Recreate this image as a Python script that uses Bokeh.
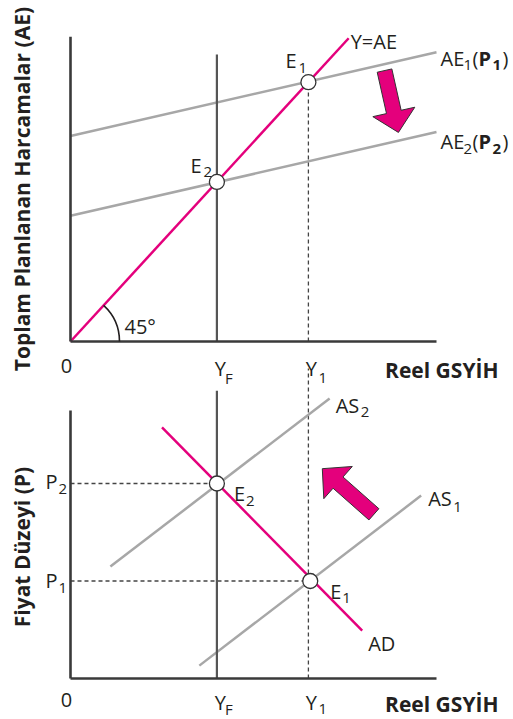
import math
from bokeh.plotting import figure
from bokeh.models import Range1d
from bokeh.core.properties import value
from bokeh.embed import file_html
from bokeh.resources import INLINE

# ---------------- data: top panel (Aggregate expenditure, AE) ----------------
Y_F = 4.0            # full-employment output
Y_1 = 6.5            # initial equilibrium output
X_AXIS_END = 10.0
AE_AXIS_TOP = 7.64
line45_x = [0.0, 7.6]
line45_y = [0.0, 7.6]
ae1_x = [0.0, 10.0]
ae1_y = [5.15, 7.25]
ae2_x = [0.0, 10.0]
ae2_y = [3.15, 5.25]
YF_LINE_TOP_AE = 7.19
e_top_x = [Y_1, Y_F]
e_top_y = [6.5, 4.0]
arrow_top_tail = (8.58, 6.79)
arrow_top_tip = (8.96, 5.24)

# ---------------- data: bottom panel (AD-AS, price level P) ----------------
P_1 = 2.5
P_2 = 5.0
P_AXIS_TOP = 6.87
as1_x = [3.52, 9.58]
as1_y = [0.33, 4.69]
as2_x = [1.09, 7.08]
as2_y = [2.87, 7.18]
ad_x = [2.5, 7.97]
ad_y = [6.44, 1.23]
e_bot_x = [6.55, Y_F]
e_bot_y = [P_1, P_2]
YF_LINE_TOP_P = 7.38
Y1_LINE_TOP_P = 7.95
arrow_bot_tail = (8.29, 4.21)
arrow_bot_tip = (6.88, 5.38)

# ---------------- layout / style ----------------
W, H = 513, 719
PX_X, PX_AE, PX_P = 36.6, 39.9, 39.0
X0, AE0, P0 = 70, 341, 678
MAGENTA = "#E4007C"
GRAY = "#A7A7A7"
AXIS = "#3A3A3A"
INK = "#231F20"
FONT = "Open Sans"
REG, SUB, BOLD = 20, 15, 21

p = figure(width=W, height=H, output_backend="svg", toolbar_location=None,
           x_range=Range1d(-X0 / PX_X, (W - X0) / PX_X),
           y_range=Range1d(-(H - AE0) / PX_AE, AE0 / PX_AE),
           x_axis_location=None, y_axis_location=None, min_border=0)
p.extra_y_ranges = {"price": Range1d(-(H - P0) / PX_P, P0 / PX_P)}
p.grid.visible = False
p.outline_line_color = None
p.background_fill_color = "white"
p.border_fill_color = "white"


def rk(rng):
    return {} if rng == "default" else {"y_range_name": rng}


def seg(x0, y0, x1, y1, color, width, dash="solid", rng="default"):
    p.segment(x0=[x0], y0=[y0], x1=[x1], y1=[y1], line_color=color,
              line_width=width, line_dash=dash, line_cap="butt", **rk(rng))


def label(txt, x, y, dx, dy, size=REG, bold=False, align="left",
          baseline="alphabetic", rng="default", angle=0.0):
    p.text(x=[x], y=[y], text=[txt], x_offset=dx, y_offset=dy,
           text_font=value(FONT), text_font_size=f"{size}px",
           text_font_style="bold" if bold else "normal",
           text_align=align, text_baseline=baseline, text_color=INK,
           angle=angle, **rk(rng))


def sub_label(main, sub, x, y, dx, dy, sdx, sdy=7, rng="default"):
    label(main, x, y, dx, dy, rng=rng)
    label(sub, x, y, dx + sdx, dy + sdy, size=SUB, rng=rng)


def arrow(tail, tip, py, rng="default", shaft=15.0, head_w=43.0, head_l=21.0):
    tx, ty = tail[0] * PX_X, tail[1] * py
    hx, hy = tip[0] * PX_X, tip[1] * py
    L = math.hypot(hx - tx, hy - ty)
    ux, uy = (hx - tx) / L, (hy - ty) / L
    nx, ny = -uy, ux
    bx, by = hx - ux * head_l, hy - uy * head_l
    pts = [(tx + nx * shaft / 2, ty + ny * shaft / 2),
           (bx + nx * shaft / 2, by + ny * shaft / 2),
           (bx + nx * head_w / 2, by + ny * head_w / 2),
           (hx, hy),
           (bx - nx * head_w / 2, by - ny * head_w / 2),
           (bx - nx * shaft / 2, by - ny * shaft / 2),
           (tx - nx * shaft / 2, ty - ny * shaft / 2)]
    p.patch(x=[q[0] / PX_X for q in pts], y=[q[1] / py for q in pts],
            fill_color=MAGENTA, line_color="#333333", line_width=1.0,
            line_join="miter", **rk(rng))


def ae_label(num, x, y, dy):
    label("AE", x, y, 4, dy)
    label(num, x, y, 27, dy + 7, size=SUB)
    label("(", x, y, 36, dy)
    label("P", x, y, 42, dy, bold=True)
    label(num, x, y, 56, dy + 7, size=SUB, bold=True)
    label(")", x, y, 66, dy)


def x_ticks(rng, dy, sdy):
    label("0", 0, 0, -4, dy - 3, align="center", rng=rng)
    label("Y", Y_F, 0, 3.5, dy, align="center", rng=rng)
    label("F", Y_F, 0, 8, sdy, size=SUB, rng=rng)
    label("Y", Y_1, 0, 3, dy, align="center", rng=rng)
    label("1", Y_1, 0, 10, sdy, size=SUB, rng=rng)
    label("Reel GSYİH", X_AXIS_END, 0, 62, dy + 1, size=BOLD, bold=True,
          align="right", rng=rng)


# ================= TOP PANEL =================
p.line(ae1_x, ae1_y, line_color=GRAY, line_width=2.5)
p.line(ae2_x, ae2_y, line_color=GRAY, line_width=2.5)
seg(Y_1, 0, Y_1, e_top_y[0], "#444444", 1.3, "4 3")
seg(Y_F, 0, Y_F, YF_LINE_TOP_AE, "#555555", 2.2)
p.line(line45_x, line45_y, line_color=MAGENTA, line_width=2.5)
seg(0, 0, 0, AE_AXIS_TOP, AXIS, 2.6)
seg(0, 0, X_AXIS_END, 0, AXIS, 2.6)
p.arc(x=[0], y=[0], radius=49, radius_units="screen", start_angle=0,
      end_angle=math.atan2(PX_AE, PX_X), line_color=INK, line_width=1.6)
p.scatter(e_top_x, e_top_y, size=15, marker="circle", fill_color="white",
          line_color="#333333", line_width=1.3)
arrow(arrow_top_tail, arrow_top_tip, PX_AE)

label("Y=AE", line45_x[1], line45_y[1], 2, 3)
ae_label("1", ae1_x[1], ae1_y[1], 6)
ae_label("2", ae2_x[1], ae2_y[1], 9.5)

sub_label("E", "1", e_top_x[0], e_top_y[0], -23, -21.5, 13)
sub_label("E", "2", e_top_x[1], e_top_y[1], -26.5, -16.5, 13)
label("45°", 0, 0, 54, -15)
x_ticks("default", 27, 36)
label("Toplam Planlanan Harcamalar (AE)", 0, AE_AXIS_TOP / 2, -49, 0,
      size=BOLD, bold=True, align="center", baseline="middle", angle=math.pi / 2)

# ================= BOTTOM PANEL =================
R = "price"
seg(0, P_2, Y_F, P_2, "#444444", 1.3, "4 3", rng=R)
seg(0, P_1, Y_1, P_1, "#444444", 1.3, "4 3", rng=R)
seg(Y_1, 0, Y_1, Y1_LINE_TOP_P, "#444444", 1.3, "4 3", rng=R)
p.line(as2_x, as2_y, line_color=GRAY, line_width=2.5, y_range_name=R)
p.line(as1_x, as1_y, line_color=GRAY, line_width=2.5, y_range_name=R)
seg(Y_F, 0, Y_F, YF_LINE_TOP_P, "#555555", 2.2, rng=R)
p.line(ad_x, ad_y, line_color=MAGENTA, line_width=2.5, y_range_name=R)
seg(0, 0, 0, P_AXIS_TOP, AXIS, 2.6, rng=R)
seg(0, 0, X_AXIS_END, 0, AXIS, 2.6, rng=R)
p.scatter(e_bot_x, e_bot_y, size=15, marker="circle", fill_color="white",
          line_color="#333333", line_width=1.3, y_range_name=R)
arrow(arrow_bot_tail, arrow_bot_tip, PX_P, rng=R)

sub_label("AS", "2", as2_x[1], as2_y[1], 6, 7, 25, rng=R)
sub_label("AS", "1", as1_x[1], as1_y[1], 7, 3, 25, 8, rng=R)
label("AD", ad_x[1], ad_y[1], 6, 13, rng=R)
sub_label("P", "2", 0, P_2, -25, -2, 13, 7, rng=R)
sub_label("P", "1", 0, P_1, -25, -1, 13, 8, rng=R)
sub_label("E", "2", e_bot_x[1], e_bot_y[1], 17, 10, 12, rng=R)
sub_label("E", "1", e_bot_x[0], e_bot_y[0], 20, 10, 12, rng=R)
x_ticks(R, 24, 30)
label("Fiyat Düzeyi (P)", 0, P_AXIS_TOP / 2, -49, 2.5, size=BOLD, bold=True,
      align="center", baseline="middle", angle=math.pi / 2, rng=R)

open("out.html", "w").write(file_html(p, INLINE))
